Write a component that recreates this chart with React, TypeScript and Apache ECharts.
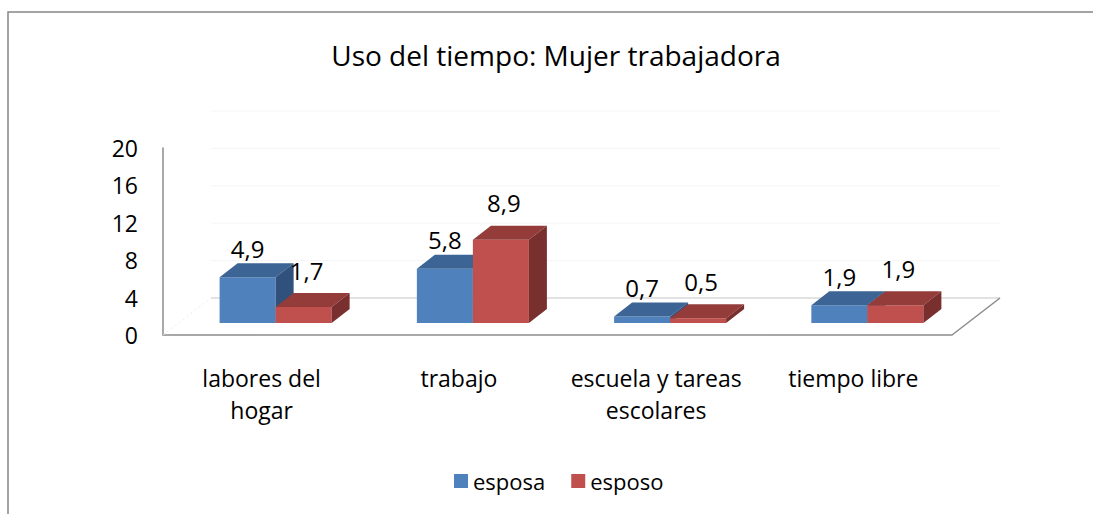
import React, { useEffect, useRef } from "react";
import * as echarts from "echarts";

const titleText = "Uso del tiempo: Mujer trabajadora";
const categories = ["labores del\nhogar", "trabajo", "escuela y tareas\nescolares", "tiempo libre"];
const seriesNames = ["esposa", "esposo"];
const esposa = [4.9, 5.8, 0.7, 1.9];
const esposo = [1.7, 8.9, 0.5, 1.9];
const yMin = 0;
const yMax = 20;
const yInterval = 4;

const FONT = "'Open Sans', 'Noto Sans', sans-serif";
const DEPTH_X = 18;
const DEPTH_Y = -14;
const SHIFT_X = 14;
const SHIFT_Y = -12;
const FLOOR_DX = 48;
const FLOOR_DY = -37;

const palette = [
  { front: "#4f81bd", top: "#3c6494", side: "#30517c", labelDy: -29, labelDx: 0 },
  { front: "#c0504d", top: "#943c3a", side: "#782f2d", labelDy: -37, labelDx: 3 },
];

const fmt = (v: number) => v.toFixed(1).replace(".", ",");

function makeBarRender(sIdx: number) {
  return (params: any, api: any) => {
    const cat = api.value(0);
    const val = api.value(1);
    const base = api.coord([cat, 0]);
    const topP = api.coord([cat, val]);
    const band = api.size([1, 0])[0];
    const bw = band * 0.284;
    const cx = base[0] + SHIFT_X;
    const x0 = sIdx === 0 ? cx - bw : cx;
    const x1 = x0 + bw;
    const yb = base[1] + SHIFT_Y;
    const yt = topP[1] + SHIFT_Y;
    const c = palette[sIdx];
    return {
      type: "group",
      children: [
        {
          type: "polygon",
          shape: { points: [[x0, yt], [x1, yt], [x1, yb], [x0, yb]] },
          style: { fill: c.front },
        },
        {
          type: "polygon",
          shape: {
            points: [
              [x0, yt],
              [x1, yt],
              [x1 + DEPTH_X, yt + DEPTH_Y],
              [x0 + DEPTH_X, yt + DEPTH_Y],
            ],
          },
          style: { fill: c.top },
        },
        {
          type: "polygon",
          shape: {
            points: [
              [x1, yt],
              [x1 + DEPTH_X, yt + DEPTH_Y],
              [x1 + DEPTH_X, yb + DEPTH_Y],
              [x1, yb],
            ],
          },
          style: { fill: c.side },
        },
        {
          type: "text",
          x: (x0 + x1) / 2 + c.labelDx,
          y: yt + c.labelDy,
          style: {
            text: fmt(val),
            textAlign: "center",
            textVerticalAlign: "middle",
            fontSize: 24,
            fontFamily: FONT,
            fill: "#000",
          },
        },
      ],
    };
  };
}

function floorRender(params: any, api: any) {
  const cs = params.coordSys;
  const x = cs.x;
  const w = cs.width;
  const bottom = cs.y + cs.height;
  const children: any[] = [];
  for (let v = yMin + yInterval; v <= yMax; v += yInterval) {
    const yy = api.coord([0, v])[1] + FLOOR_DY;
    children.push({
      type: "line",
      shape: { x1: x + FLOOR_DX, y1: yy, x2: x + w + FLOOR_DX, y2: yy },
      style: { stroke: "#f5f5f5", lineWidth: 1 },
    });
  }
  children.push({
    type: "line",
    shape: { x1: x, y1: bottom, x2: x + FLOOR_DX, y2: bottom + FLOOR_DY },
    style: { stroke: "#ececec", lineWidth: 1, lineDash: [2, 3] },
  });
  children.push({
    type: "line",
    shape: { x1: x + FLOOR_DX, y1: bottom + FLOOR_DY, x2: x + w + FLOOR_DX, y2: bottom + FLOOR_DY },
    style: { stroke: "#d9d9d9", lineWidth: 1.5 },
  });
  children.push({
    type: "line",
    shape: { x1: x + w, y1: bottom, x2: x + w + FLOOR_DX, y2: bottom + FLOOR_DY },
    style: { stroke: "#8c8c8c", lineWidth: 1.5 },
  });
  return { type: "group", children };
}

export default function App() {
  const ref = useRef<HTMLDivElement>(null);
  useEffect(() => {
    if (!ref.current) return;
    const chart = echarts.init(ref.current, undefined, { renderer: "svg" });
    chart.setOption({
      animation: false,
      backgroundColor: "#ffffff",
      graphic: [
        {
          type: "rect",
          shape: { x: 8, y: 12, width: 1100, height: 520 },
          style: { fill: "none", stroke: "#868686", lineWidth: 1.5 },
          z: 0,
        },
        {
          type: "text",
          x: 556,
          y: 55,
          style: {
            text: titleText,
            textAlign: "center",
            textVerticalAlign: "middle",
            fontSize: 28,
            fontFamily: FONT,
            fill: "#000",
          },
        },
      ],
      legend: {
        data: seriesNames,
        left: 454,
        top: 470,
        itemWidth: 14,
        itemHeight: 14,
        itemGap: 26,
        icon: "rect",
        padding: 0,
        textStyle: { fontSize: 22, fontFamily: FONT, color: "#000" },
      },
      grid: { left: 163, right: 141, top: 148, bottom: 179 },
      xAxis: {
        type: "category",
        data: categories,
        axisLine: { show: true, lineStyle: { color: "#8c8c8c", width: 1.5 } },
        axisTick: { show: false },
        axisLabel: {
          interval: 0,
          fontSize: 23,
          fontFamily: FONT,
          color: "#000",
          margin: 27,
          lineHeight: 32,
          align: "center",
        },
        splitLine: { show: false },
      },
      yAxis: {
        type: "value",
        min: yMin,
        max: yMax,
        interval: yInterval,
        axisLine: { show: true, lineStyle: { color: "#8c8c8c", width: 1.5 } },
        axisTick: { show: false },
        axisLabel: { fontSize: 23, fontFamily: FONT, color: "#000", margin: 25 },
        splitLine: { show: false },
      },
      series: [
        {
          type: "custom",
          name: "floor",
          renderItem: floorRender,
          data: [[0, 0]],
          silent: true,
          z: 1,
        },
        {
          type: "custom",
          name: seriesNames[0],
          itemStyle: { color: palette[0].front },
          renderItem: makeBarRender(0),
          data: esposa.map((v, i) => [i, v]),
          z: 2,
        },
        {
          type: "custom",
          name: seriesNames[1],
          itemStyle: { color: palette[1].front },
          renderItem: makeBarRender(1),
          data: esposo.map((v, i) => [i, v]),
          z: 3,
        },
      ],
    });
    return () => chart.dispose();
  }, []);
  return (
    <div
      ref={ref}
      style={{ position: "absolute", left: 0, top: 0, width: 1093, height: 514 }}
    />
  );
}
